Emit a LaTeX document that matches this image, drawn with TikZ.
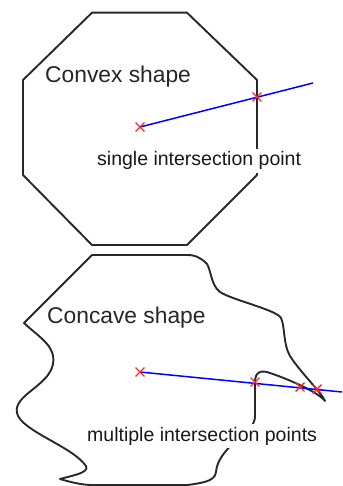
\documentclass[tikz,border=0pt]{standalone}
\usepackage{fontspec}
\setmainfont{Liberation Sans}
\usepackage{xcolor}
\usepackage{tikz}
\usetikzlibrary{shapes.misc}

\definecolor{outline}{RGB}{40,40,40}
\definecolor{hitred}{RGB}{255,40,40}

\begin{document}
\begin{tikzpicture}[x=1pt, y=-1pt,
  outl/.style={draw=outline, line width=1.9pt, line join=round},
  ray/.style={draw=blue, line width=1.5pt},
  hit/.style={cross out, draw=hitred, line width=1.4pt, minimum size=7.5pt, inner sep=0pt},
  big/.style={font=\fontsize{22.8}{24}\selectfont, text=black!85, inner sep=0pt, anchor=base west},
  small/.style={font=\fontsize{19.5}{21}\selectfont, text=black!90, fill=white,
                inner xsep=1pt, inner ysep=3pt, anchor=base west}
]
\useasboundingbox (0,0) rectangle (342,486);

% convex shape
\draw[outl] (92,12.7) -- (187,12.7) -- (257,80) -- (257,175) -- (187,245)
  -- (92,245) -- (23,175) -- (23,80) -- cycle;
\node[big] (cvx) at (45,83) {Convex shape};
\node[small] (one) at (96,166) {single intersection point};

\coordinate (s1) at (140,127);
\coordinate (s2) at (257,97);
\coordinate (e1) at (313,83);
\draw[ray] (s1) -- (e1);
\node[hit] (c1) at (s1) {};
\node[hit] (c2) at (s2) {};

% concave shape
\draw[outl] (92,255) -- (24,323)
  .. controls (40,338) and (56,346) .. (53,364)
  .. controls (49,386) and (13,395) .. (17,413)
  .. controls (21,431) and (72,446) .. (86,466)
  .. controls (90,473) and (70,476) .. (60,479)
  .. controls (70,482) and (82,485) .. (92,485)
  -- (188,485)
  .. controls (200,483) and (215,482) .. (216,472)
  .. controls (217,460) and (225,452) .. (232,444)
  -- (253,424)
  .. controls (255,420) .. (255,410)
  -- (255,382)
  .. controls (255,371) and (262,370) .. (270,373)
  .. controls (288,379) and (318,392) .. (325,401)
  .. controls (322,393) and (300,372) .. (290,356)
  .. controls (283,344) and (285,326) .. (281,318)
  .. controls (277,310) and (232,300) .. (220,292)
  .. controls (210,285) and (211,265) .. (205,262)
  .. controls (199,257) and (195,255) .. (187,255)
  -- cycle;
\node[big] (ccv) at (47,323) {Concave shape};
\node[small] (many) at (86,441) {multiple intersection points};

\coordinate (t1) at (140,372);
\coordinate (t2) at (255,382);
\coordinate (t3) at (300,387);
\coordinate (t4) at (317,389);
\coordinate (e2) at (342,392);
\draw[ray] (t1) -- (e2);
\foreach \i in {1,...,4} \node[hit] (d\i) at (t\i) {};
\end{tikzpicture}
\end{document}
